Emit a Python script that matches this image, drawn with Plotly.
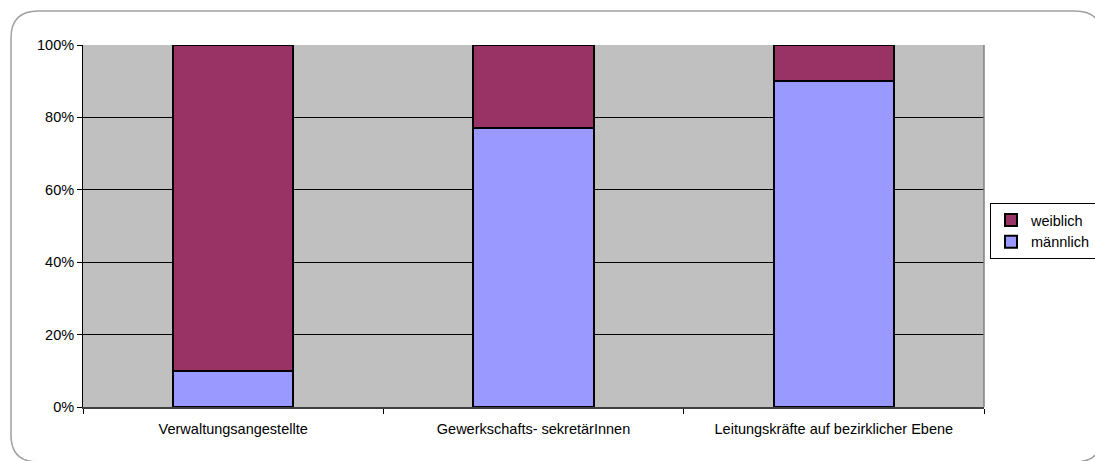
import plotly.graph_objects as go

categories = ["Verwaltungsangestellte", "Gewerkschafts- sekretärInnen", "Leitungskräfte auf bezirklicher Ebene"]
maennlich = [0.10, 0.77, 0.90]
weiblich = [0.90, 0.23, 0.10]

W, H = 1095, 461
L, R, T, B = 83, 984, 45, 407

def px(x):
    return (x - L) / (R - L)

def py(y):
    return (B - y) / (B - T)

fig = go.Figure()
fig.add_trace(go.Bar(x=categories, y=maennlich, name="männlich",
                     marker=dict(color="#9999FF", line=dict(color="black", width=2))))
fig.add_trace(go.Bar(x=categories, y=weiblich, name="weiblich",
                     marker=dict(color="#993366", line=dict(color="black", width=2))))

# rounded outer frame (screen coordinates)
x0, y0, x1, y1, r = 11, 11, 1102, 462, 27
path = (f"M {px(x0+r)},{py(y0)} L {px(x1-r)},{py(y0)} Q {px(x1)},{py(y0)} {px(x1)},{py(y0+r)} "
        f"L {px(x1)},{py(y1-r)} Q {px(x1)},{py(y1)} {px(x1-r)},{py(y1)} "
        f"L {px(x0+r)},{py(y1)} Q {px(x0)},{py(y1)} {px(x0)},{py(y1-r)} "
        f"L {px(x0)},{py(y0+r)} Q {px(x0)},{py(y0)} {px(x0+r)},{py(y0)} Z")

FS = 14.5
fig.update_layout(
    width=W, height=H,
    margin=dict(l=L, r=W - R, t=T, b=H - B, autoexpand=False),
    paper_bgcolor="white", plot_bgcolor="#C0C0C0",
    barmode="stack", bargap=0.6,
    font=dict(family="Liberation Sans, Arial, sans-serif", size=FS, color="black"),
    showlegend=True,
    legend=dict(xref="container", yref="container", x=990 / W, y=1 - 231 / H,
                xanchor="left", yanchor="middle",
                bgcolor="white", bordercolor="black", borderwidth=1,
                traceorder="reversed", font=dict(size=FS),
                itemwidth=30, tracegroupgap=0),
    shapes=[
        dict(type="path", path=path, xref="paper", yref="paper",
             line=dict(color="#A0A0A0", width=1.5), layer="below"),
        dict(type="line", xref="paper", yref="paper", x0=1, x1=1, y0=0, y1=1,
             line=dict(color="#808080", width=1.5)),
    ],
)
fig.update_yaxes(range=[0, 1], dtick=0.2, tickformat=".0%", showgrid=True,
                 gridcolor="black", gridwidth=1, showline=True, linecolor="black",
                 linewidth=1, ticks="outside", ticklen=5, tickcolor="black",
                 zeroline=False, tickfont=dict(size=FS))
fig.update_xaxes(showline=True, linecolor="#404040", linewidth=2, ticks="outside",
                 tickson="boundaries", ticklen=5, tickcolor="black",
                 tickfont=dict(size=FS), ticklabelstandoff=8)

fig.write_html("out.html", config={"displayModeBar": False},
               post_script="document.body.style.margin='0';document.body.style.overflow='hidden';")
